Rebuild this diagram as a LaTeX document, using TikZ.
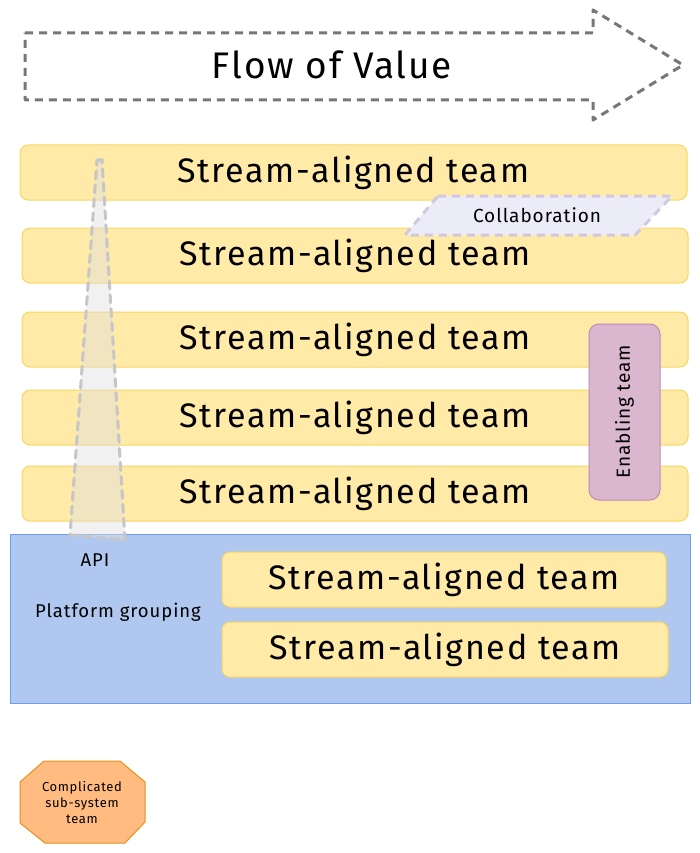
\documentclass[tikz,border=0pt]{standalone}
\usepackage{fontspec}
\setmainfont[LetterSpace=5]{Fira Sans}
\usetikzlibrary{positioning}

\definecolor{teamfill}{HTML}{FFEAA8}
\definecolor{teamdraw}{HTML}{F9D65C}
\definecolor{platfill}{HTML}{B0C8F0}
\definecolor{platdraw}{HTML}{6C9EEB}
\definecolor{enabfill}{HTML}{DBB7CF}
\definecolor{enabdraw}{HTML}{C08AB8}
\definecolor{subfill}{HTML}{FFBB80}
\definecolor{subdraw}{HTML}{E8901A}
\definecolor{collabfill}{HTML}{ECEBF8}
\definecolor{collabdraw}{HTML}{D2C8E0}
\definecolor{flowdraw}{HTML}{777777}

\tikzset{
  team/.style={draw=teamdraw,fill=teamfill,line width=1pt,rectangle,rounded corners=8pt,
    minimum height=55pt,font=\fontsize{34}{40}\selectfont},
  platform/.style={draw=platdraw,fill=platfill,line width=1pt,rectangle,
    minimum width=680pt,minimum height=169pt,inner sep=0pt},
  enabling/.style={draw=enabdraw,fill=enabfill,line width=1pt,rectangle,rounded corners=10pt,
    minimum width=71pt,minimum height=176pt,inner sep=0pt},
  flow/.style={draw=flowdraw,line width=3pt,dash pattern=on 8pt off 6pt,line join=round},
  collab/.style={draw=collabdraw,fill=collabfill,line width=3pt,dash pattern=on 8pt off 6pt},
  api/.style={draw=gray!45,fill=gray!25,fill opacity=0.45,draw opacity=1,line width=3pt,
    dash pattern=on 8pt off 6pt,line cap=round},
  lbl/.style={font=\fontsize{18.5}{22}\selectfont},
}

\begin{document}
\begin{tikzpicture}[x=1pt,y=-1pt]
\useasboundingbox (0,0) rectangle (700,853);

% flow of value
\draw[flow] (25,33) -- (593,33) -- (593,10) -- (683,65) -- (593,120) -- (593,100) -- (25,100) -- cycle;
\node[font=\fontsize{37}{42}\selectfont](flow) at (332,65) {Flow of Value};

% platform grouping
\node[platform](plat) at (350,618.5) {};
\node[lbl](apilbl) at (95,560) {API};
\node[lbl](platlbl) at (118,612) {Platform grouping};

% stream-aligned teams
\node[team,minimum width=667pt](sa1) at (353.5,172.5) {Stream-aligned team};
\node[team,minimum width=666pt](sa2) at (355,255.5) {Stream-aligned team};
\node[team,minimum width=666pt](sa3) at (355,339.5) {Stream-aligned team};
\node[team,minimum width=666pt](sa4) at (355,417.5) {Stream-aligned team};
\node[team,minimum width=666pt](sa5) at (355,493.5) {Stream-aligned team};
\node[team,minimum width=444pt](sa6) at (444,579.5) {Stream-aligned team};
\node[team,minimum width=446pt](sa7) at (445,649.5) {Stream-aligned team};

% collaboration
\draw[collab] (438,196) -- (672,196) -- (635,235) -- (405,235) -- cycle;
\node[font=\fontsize{19}{22}\selectfont](collab) at (537,215) {Collaboration};

% enabling team
\node[enabling](enab) at (624.5,412) {};
\node[font=\fontsize{19}{22}\selectfont,rotate=90](enablbl) at (enab.center) {Enabling team};

% api
\draw[api] (97,160) -- (102,160) -- (125,540) -- (70,535) -- cycle;

% complicated sub-system
\draw[draw=subdraw,fill=subfill,line width=1pt]
  (44,761) -- (120,761) -- (145,782) -- (145,822) -- (125,843) -- (45,843) -- (20,823) -- (20,782) -- cycle;
\node[font=\fontsize{13}{16}\selectfont,align=center](subsys) at (82,802) {Complicated\\sub-system\\team};
\end{tikzpicture}
\end{document}
